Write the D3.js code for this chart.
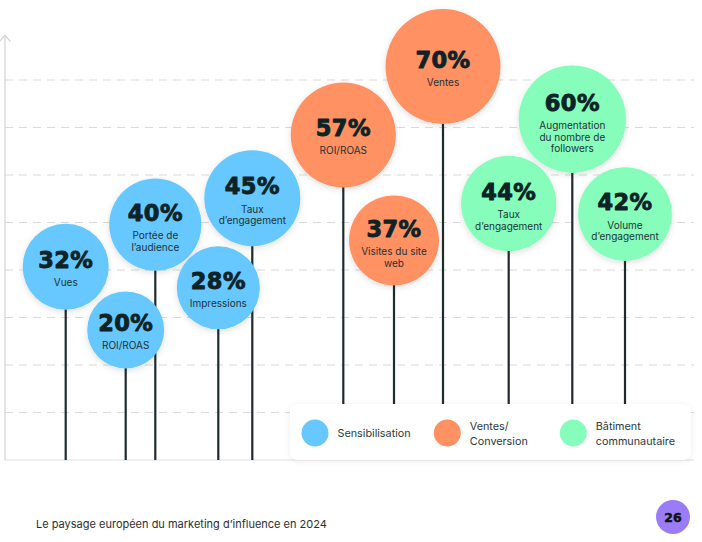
<!DOCTYPE html>
<html>
<head>
<meta charset="utf-8">
<script src="https://cdn.jsdelivr.net/npm/d3@7"></script>
<style>
  html, body { margin: 0; padding: 0; background: #ffffff; }
  svg { display: block; }
</style>
</head>
<body>
<svg id="chart" width="702" height="542"></svg>
<script>
// ---------- DATA ----------
const values = [32, 20, 40, 28, 45, 57, 37, 70, 44, 60, 42];
const labelLines = [
  ["Vues"],
  ["ROI/ROAS"],
  ["Portée de", "l’audience"],
  ["Impressions"],
  ["Taux", "d’engagement"],
  ["ROI/ROAS"],
  ["Visites du site", "web"],
  ["Ventes"],
  ["Taux", "d’engagement"],
  ["Augmentation", "du nombre de", "followers"],
  ["Volume", "d’engagement"]
];
const groupOf = [0, 0, 0, 0, 0, 1, 1, 1, 2, 2, 2];
const groupNames = [["Sensibilisation"], ["Ventes/", "Conversion"], ["Bâtiment", "communautaire"]];
const footerText = "Le paysage européen du marketing d’influence en 2024";
const pageNumber = "26";

// ---------- LAYOUT / STYLE ----------
const W = 702, H = 542;
const stemX = [65.7, 125.7, 155.3, 218.3, 252.3, 343.3, 394, 443, 508.7, 572.3, 625];
const groupColors = ["#66c8fe", "#ff9162", "#87fdbb"];
const baseY = 460;
const axisX = 5;

const svg = d3.select("#chart");
const defs = svg.append("defs");
const sh = defs.append("filter").attr("id", "shadow")
  .attr("x", "-30%").attr("y", "-30%").attr("width", "160%").attr("height", "160%");
sh.append("feDropShadow").attr("dx", 0).attr("dy", 2).attr("stdDeviation", 3)
  .attr("flood-color", "#000").attr("flood-opacity", 0.13);
const sh2 = defs.append("filter").attr("id", "shadow2")
  .attr("x", "-10%").attr("y", "-30%").attr("width", "120%").attr("height", "160%");
sh2.append("feDropShadow").attr("dx", 0).attr("dy", 1).attr("stdDeviation", 3)
  .attr("flood-color", "#000").attr("flood-opacity", 0.08);

const idx = d3.range(values.length);
const x = d3.scaleOrdinal().domain(idx).range(stemX);
const y = d3.scaleLinear().domain([0, 70]).range([435.3, 66.5]);
const r = d3.scaleLinear().domain([20, 70]).range([38.5, 57.5]);
const color = d3.scaleOrdinal().domain([0, 1, 2]).range(groupColors);

// grid (decorative, 8 equal steps above the baseline)
const gridScale = d3.scaleLinear().domain([0, 8]).range([baseY, 80]);
const gridG = svg.append("g");
gridG.selectAll("line.grid").data(d3.range(1, 9)).join("line")
  .attr("class", "grid")
  .attr("x1", axisX).attr("x2", 694)
  .attr("y1", d => gridScale(d)).attr("y2", d => gridScale(d))
  .attr("stroke", "#dadada").attr("stroke-width", 1.2)
  .attr("stroke-dasharray", "8,6");
gridG.append("line")
  .attr("x1", axisX).attr("x2", 694).attr("y1", baseY).attr("y2", baseY)
  .attr("stroke", "#e0e0e0").attr("stroke-width", 1.2);
// y axis with arrow
gridG.append("line")
  .attr("x1", axisX).attr("x2", axisX).attr("y1", 35).attr("y2", baseY)
  .attr("stroke", "#d4d4d4").attr("stroke-width", 1.2);
gridG.append("path")
  .attr("d", `M${axisX - 5.5},41.5 L${axisX},35.5 L${axisX + 5.5},41.5`)
  .attr("fill", "none").attr("stroke", "#d4d4d4").attr("stroke-width", 1.2);

// stems
svg.append("g").selectAll("line").data(idx).join("line")
  .attr("x1", i => x(i)).attr("x2", i => x(i))
  .attr("y1", i => y(values[i])).attr("y2", baseY)
  .attr("stroke", "#1d2b2f").attr("stroke-width", 2.2);

// bubbles
const bub = svg.append("g").selectAll("g").data(idx).join("g")
  .attr("transform", i => `translate(${x(i)},${y(values[i])})`);
bub.append("circle")
  .attr("r", i => r(values[i]))
  .attr("fill", i => color(groupOf[i]))
  .attr("filter", "url(#shadow)");
bub.each(function (i) {
  const g = d3.select(this);
  const n = labelLines[i].length;
  const pb = 1 - (n - 1) * 4.75;
  g.append("text")
    .attr("text-anchor", "middle")
    .attr("y", pb)
    .attr("font-family", "DejaVu Sans, sans-serif")
    .attr("font-weight", "bold")
    .attr("font-size", 22.5)
    .attr("letter-spacing", 0.4)
    .attr("fill", "#0e2326")
    .attr("stroke", "#0e2326")
    .attr("stroke-width", 0.9)
    .attr("stroke-linejoin", "round")
    .text(values[i] + "%");
  labelLines[i].forEach((t, k) => {
    g.append("text")
      .attr("text-anchor", "middle")
      .attr("y", pb + 18.5 + k * 11.5)
      .attr("font-family", "Inter, sans-serif")
      .attr("font-size", 10)
      .attr("fill", "#1e3236")
      .text(t);
  });
});

// legend
const lg = svg.append("g");
lg.append("rect")
  .attr("x", 290).attr("y", 404).attr("width", 401).attr("height", 56).attr("rx", 8)
  .attr("fill", "#ffffff").attr("filter", "url(#shadow2)");
const legX = d3.scaleOrdinal().domain([0, 1, 2]).range([315, 447.3, 573.3]);
const li = lg.selectAll("g.item").data([0, 1, 2]).join("g")
  .attr("class", "item")
  .attr("transform", d => `translate(${legX(d)},433)`);
li.append("circle").attr("r", 13.5).attr("fill", d => color(d));
li.each(function (d) {
  const g = d3.select(this);
  const lines = groupNames[d];
  const n = lines.length;
  lines.forEach((t, k) => {
    g.append("text")
      .attr("x", 22.5)
      .attr("y", 4 - (n - 1) * 7.5 + k * 15)
      .attr("font-family", "Inter, sans-serif")
      .attr("font-size", 10.8)
      .attr("fill", "#2a3a3e")
      .text(t);
  });
});

// footer
svg.append("text")
  .attr("x", 36).attr("y", 527.5)
  .attr("font-family", "Inter, sans-serif")
  .attr("font-size", 11)
  .attr("fill", "#2b2f30")
  .text(footerText);
svg.append("circle").attr("cx", 673).attr("cy", 517).attr("r", 17).attr("fill", "#9b7cf7");
svg.append("text")
  .attr("x", 673).attr("y", 521.5).attr("text-anchor", "middle")
  .attr("font-family", "DejaVu Sans, sans-serif").attr("font-weight", "bold")
  .attr("font-size", 12.5).attr("fill", "#111")
  .attr("stroke", "#111").attr("stroke-width", 0.5)
  .text(pageNumber);
</script>
</body>
</html>
